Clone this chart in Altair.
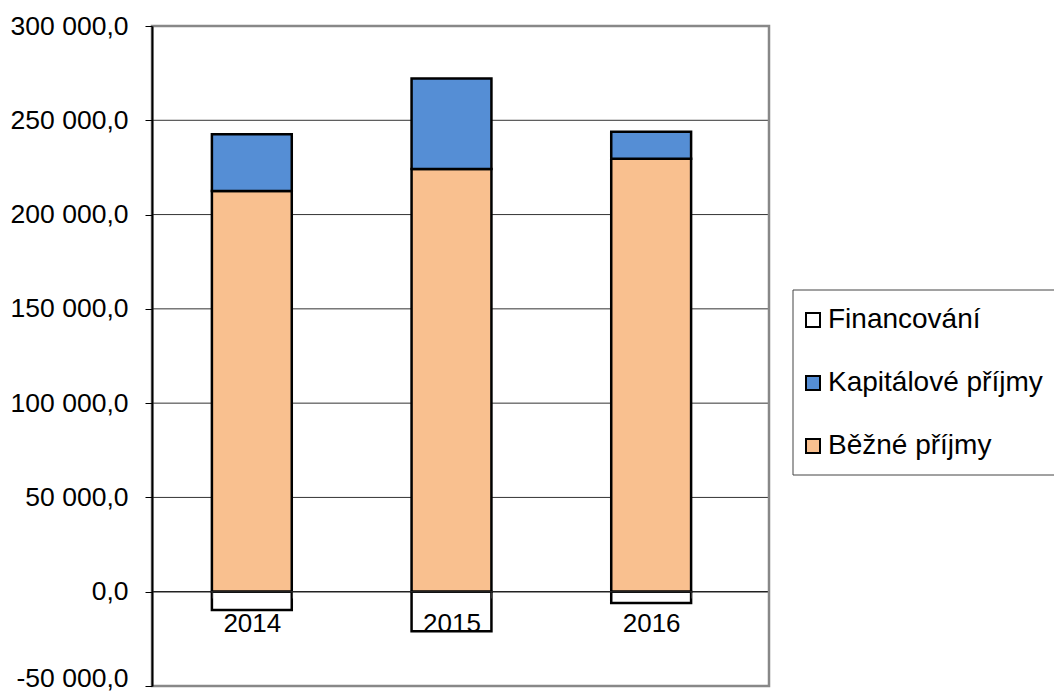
import altair as alt
import pandas as pd

years = ["2014", "2015", "2016"]
series = ["Financování", "Kapitálové příjmy", "Běžné příjmy"]
colors = ["#FFFFFF", "#558ED5", "#F9C08F"]
bezne = [212500, 224200, 229600]
kapitalove = [30100, 47900, 14300]
financovani = [-9700, -21000, -6000]
grid_values = [50000, 100000, 150000, 200000, 250000]
stack_rank = {"Běžné příjmy": 0, "Kapitálové příjmy": 1, "Financování": 2}

rows = []
for i, y in enumerate(years):
    rows.append({"rok": y, "serie": "Běžné příjmy", "hodnota": bezne[i]})
    rows.append({"rok": y, "serie": "Kapitálové příjmy", "hodnota": kapitalove[i]})
    rows.append({"rok": y, "serie": "Financování", "hodnota": financovani[i]})
df = pd.DataFrame(rows)
df["poradi"] = df["serie"].map(stack_rank)

FONT = "Liberation Sans"
label_expr = "replace(replace(replace(format(datum.value, ',.1f'), ',', ' '), '.', ','), '−', '-')"

W, H = 617, 660
yscale = alt.Scale(domain=[-50000, 300000], nice=False, zero=False)

grid = alt.Chart(pd.DataFrame({"g": grid_values})).mark_rule(
    color="#333333", strokeWidth=1
).encode(y=alt.Y("g:Q", scale=yscale))

legend_box = alt.Chart(pd.DataFrame({"b": [0]})).mark_rect(
    fill="white", stroke="#444444", strokeWidth=1
).encode(x=alt.value(641), x2=alt.value(960), y=alt.value(264), y2=alt.value(449))

bars = alt.Chart(df).mark_bar(stroke="black", strokeWidth=2.5, opacity=1).encode(
    x=alt.X(
        "rok:N",
        sort=years,
        scale=alt.Scale(range=[0, 599], paddingInner=0.6, paddingOuter=0.3),
        axis=alt.Axis(
            title=None, orient="bottom", offset=-94, domain=False,
            ticks=True, tickBand="extent", tickSize=6, tickColor="#333333",
            labelFont=FONT, labelFontSize=26, labelColor="black",
            labelPadding=12, labelAngle=0, zindex=2,
        ),
    ),
    y=alt.Y(
        "hodnota:Q",
        stack="zero",
        scale=yscale,
        axis=alt.Axis(
            title=None, values=[-50000, 0, 50000, 100000, 150000, 200000, 250000, 300000],
            labelExpr=label_expr, grid=False, domain=True, domainColor="black",
            domainWidth=2, ticks=True, tickSize=7, tickColor="black",
            labelFont=FONT, labelFontSize=26.5, labelColor="black", labelPadding=17,
            labelOffset={"condition": {"test": "datum.value < 0", "value": -8}, "value": 0},
            zindex=2,
        ),
    ),
    color=alt.Color(
        "serie:N",
        scale=alt.Scale(domain=series, range=colors),
        legend=alt.Legend(
            title=None, orient="none", legendX=647, legendY=280,
            symbolType="square", symbolSize=196, symbolStrokeColor="black",
            symbolStrokeWidth=2, symbolOpacity=1,
            labelFont=FONT, labelFontSize=28, labelColor="black", labelLimit=0,
            labelOffset=1, rowPadding=35, padding=0,
        ),
    ),
    order=alt.Order("poradi:Q"),
)

zero = alt.Chart(pd.DataFrame({"z": [0]})).mark_rule(
    color="#222222", strokeWidth=1.5
).encode(y=alt.Y("z:Q", scale=yscale))

border = alt.Chart(pd.DataFrame({"b": [0]})).mark_rect(
    fill=None, fillOpacity=0, stroke="#888888", strokeWidth=2.5
).encode(x=alt.value(0), x2=alt.value(W), y=alt.value(0), y2=alt.value(H))

chart = alt.layer(grid, legend_box, bars, zero, border).properties(
    width=W, height=H,
    autosize=alt.AutoSizeParams(type="none"),
    padding={"left": 144, "top": 18, "right": 285, "bottom": 6},
).configure_view(stroke=None).configure(background="white")

chart.save("out.html", embed_options={"renderer": "svg", "actions": False})
